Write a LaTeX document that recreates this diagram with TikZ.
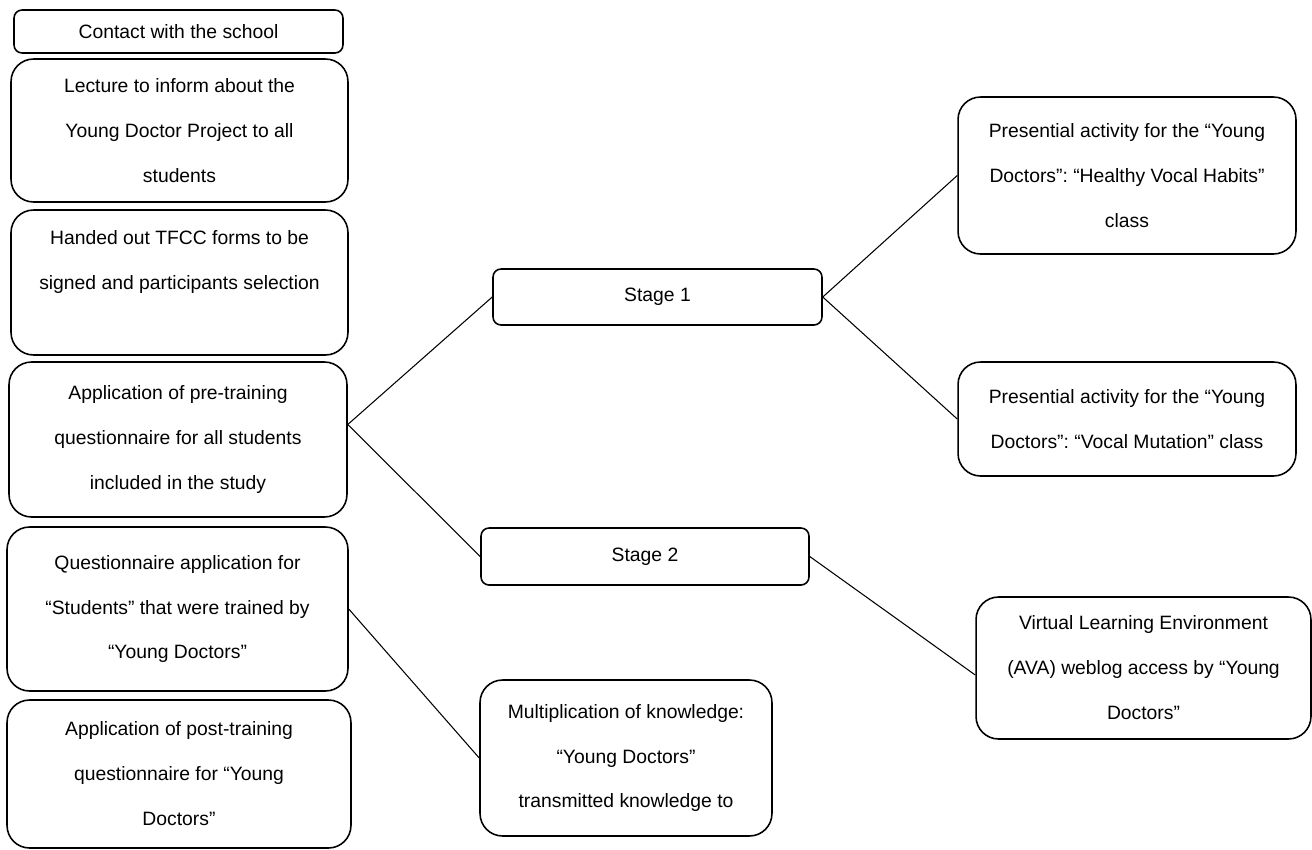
\documentclass[tikz,border=0pt]{standalone}
\usepackage{fontspec}
\setmainfont{Liberation Sans}
\usepackage{tikz}
\frenchspacing
\tikzstyle{bigbox} = [rectangle, draw, line width=0.9pt, rounded corners=0.45cm, align=center, font=\fontsize{11}{25.6}\selectfont]
\tikzstyle{stagebox} = [rectangle, draw, line width=0.9pt, rounded corners=0.16cm, align=center, font=\fontsize{11}{25.6}\selectfont]
\tikzstyle{line} = [line width=0.6pt]

\begin{document}
\begin{tikzpicture}[x=0.02cm, y=-0.02cm]
            \useasboundingbox (0,0) rectangle (1312,849);

            % left column
            \node [stagebox, minimum width=6.58cm, minimum height=0.86cm] at (178.5,31.5) (contact) {Contact with the school};
            \node [bigbox, minimum width=6.74cm, minimum height=2.86cm] at (179.5,130.5) (lecture) {Lecture to inform about the\\Young Doctor Project to all\\students};
            \node [bigbox, minimum width=6.74cm, minimum height=2.90cm] at (179.5,282.5) (handed) {Handed out TFCC forms to be\\signed and participants selection\\~};
            \node [bigbox, minimum width=6.76cm, minimum height=3.10cm] at (178,439.5) (pretrain) {Application of pre-training\\questionnaire for all students\\included in the study};
            \node [bigbox, minimum width=6.82cm, minimum height=3.28cm] at (177.5,609) (quest) {Questionnaire application for\\“Students” that were trained by\\“Young Doctors”};
            \node [bigbox, minimum width=6.88cm, minimum height=2.96cm] at (179,774) (posttrain) {Application of post-training\\questionnaire for “Young\\Doctors”};

            % middle column
            \node [stagebox, minimum width=6.58cm, minimum height=1.12cm] at (657.5,297) (stage1) {Stage 1};
            \node [stagebox, minimum width=6.56cm, minimum height=1.14cm] at (645,556.5) (stage2) {Stage 2};
            \node [bigbox, minimum width=5.84cm, minimum height=3.12cm] at (626,758) (multi) {Multiplication of knowledge:\\“Young Doctors”\\transmitted knowledge to};

            % right column
            \node [bigbox, minimum width=6.76cm, minimum height=3.14cm] at (1127,175.5) (habits) {Presential activity for the “Young\\Doctors”: “Healthy Vocal Habits”\\class};
            \node [bigbox, minimum width=6.76cm, minimum height=2.28cm] at (1127,419) (mutation) {Presential activity for the “Young\\Doctors”: “Vocal Mutation” class};
            \node [bigbox, minimum width=6.70cm, minimum height=2.84cm] at (1143.5,668) (virtual) {Virtual Learning Environment\\(AVA) weblog access by “Young\\Doctors”};

            \draw [line] ([yshift=0.3cm]pretrain.east) -- (stage1.west);
            \draw [line] ([yshift=0.3cm]pretrain.east) -- (stage2.west);
            \draw [line] (stage1.east) -- (habits.west);
            \draw [line] (stage1.east) -- (mutation.west);
            \draw [line] (stage2.east) -- ([yshift=-0.14cm]virtual.west);
            \draw [line] (quest.east) -- (multi.west);
\end{tikzpicture}
\end{document}
